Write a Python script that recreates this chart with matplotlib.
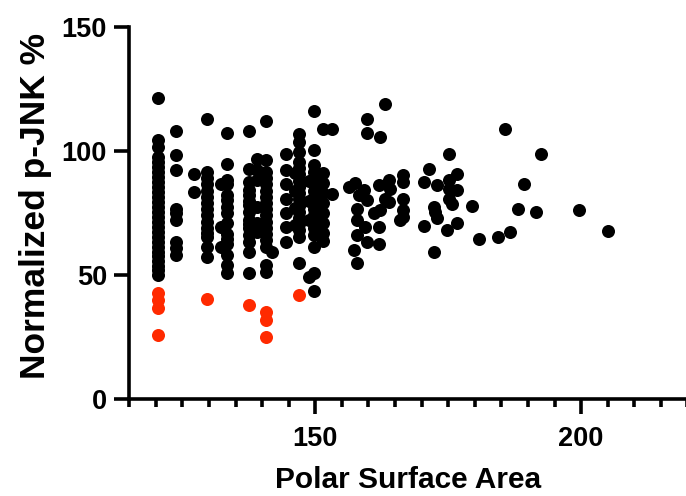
import matplotlib
matplotlib.use("Agg")
import matplotlib.pyplot as plt
from matplotlib.ticker import MultipleLocator, FixedLocator

plt.rcParams['font.family'] = ['Liberation Sans', 'DejaVu Sans']
plt.rcParams['font.weight'] = 'bold'

# ---- data (Polar Surface Area vs Normalized p-JNK %) ----
colA_x = 120.4
colA_y = [121.4, 104.3, 101.6, 97.5, 95.5, 93.5, 91.5, 89.5, 87.5, 85.5, 83.5, 81.5,
          79.5, 77.5, 75.5, 73.5, 71.5, 69.5, 67.5, 65.5, 63.5, 61.5, 59.5, 57.5,
          55.5, 53.5, 52.0, 50.0]
colB_x = 123.8
colB_y = [108.0, 98.2, 92.2, 76.7, 74.9, 72.1, 63.4, 60.8, 58.0]
colC_x = 127.1
colC_y = [90.9, 83.3]
colD_x = 129.7
colD_y = [112.7, 91.5, 89.0, 86.5, 84.0, 81.5, 79.0, 76.5, 74.0, 71.5, 69.0, 67.0,
          65.4, 61.4, 57.3]
colE_x = 133.4
colE_y = [107.4, 94.6, 88.2, 86.8, 82.1, 80.1, 77.4, 74.8, 70.8, 66.7, 64.7, 62.7,
          58.0, 54.0, 50.9]
colE2_x = 132.3
colE2_y = [86.8, 69.4, 61.4]
colF_x = 137.6
colF_y = [108.0, 92.9, 87.5, 84.2, 82.1, 80.0, 78.1, 75.4, 72.1, 70.5, 68.8, 66.1,
          63.4, 59.4, 50.7]
colF2_x = 139.0
colF2_y = [96.9, 92.5, 88.2, 77.4, 70.8, 67.4]
colG_x = 140.8
colG_y = [112.0, 96.2, 91.5, 89.0, 86.5, 84.0, 81.5, 79.0, 76.5, 74.0, 71.5, 69.0,
          66.5, 64.0, 61.4, 54.0, 51.3]
colG2_x = 141.9
colG2_y = [59.4]
colH_x = 144.4
colH_y = [98.9, 92.5, 86.8, 80.8, 74.8, 69.4, 63.4]
colI_x = 146.9
colI_y = [107.0, 103.6, 99.6, 95.5, 93.0, 90.5, 88.0, 85.5, 83.0, 80.5, 78.0, 75.5,
          73.0, 70.5, 68.0, 65.4, 54.7]
colI2_x = 146.2
colI2_y = [91.0, 84.0, 77.0, 70.0]
colJ_x = 149.7
colJ_y = [116.0, 100.2, 94.2, 91.5, 89.0, 86.5, 84.0, 81.5, 79.0, 76.5, 74.0, 71.5,
          69.0, 66.1, 61.4, 50.7, 43.7]
colJ2_x = 148.8
colJ2_y = [88.0, 80.0, 72.0, 49.3]
colK_x = 151.4
colK_y = [109.0, 91.0, 87.0, 83.0, 79.0, 75.0, 71.0, 67.0, 63.7]
colL_x = 153.2
colL_y = [109.0, 82.8]

scatter_x = [156.3, 157.5, 159.1, 158.3, 159.7, 157.8, 161.0, 162.2, 157.8, 159.4,
             161.9, 157.8, 159.7, 161.9, 157.2, 157.8, 161.9, 163.8, 164.1, 163.2,
             163.8, 166.5, 166.5, 166.5, 166.5, 166.0, 166.5, 159.8, 159.8, 163.2,
             162.2, 170.4, 171.3, 172.9, 175.1, 175.1, 176.7, 176.7, 175.1, 175.7,
             179.5, 172.3, 172.6, 172.9, 170.4, 174.7, 176.7, 172.4, 180.8, 184.4,
             186.7, 185.6, 175.2, 189.2, 188.2, 191.5, 192.4, 199.6, 205.0]
scatter_y = [85.5, 86.9, 84.2, 82.1, 80.1, 76.8, 74.8, 76.1, 72.1, 69.4,
             69.4, 66.1, 63.4, 62.7, 60.0, 54.7, 86.2, 88.2, 84.8, 80.8,
             79.5, 90.2, 87.5, 80.8, 76.1, 72.1, 73.5, 113.0, 107.2, 118.7,
             105.6, 87.5, 92.9, 86.2, 88.2, 84.8, 90.9, 84.2, 80.8, 78.8,
             77.9, 77.5, 75.4, 72.8, 69.8, 68.1, 71.1, 59.1, 64.4, 65.4,
             67.2, 109.0, 98.9, 86.5, 76.8, 75.4, 98.6, 76.4, 67.8]

red_x = [120.4, 120.4, 120.4, 120.4, 129.7, 137.6, 140.8, 140.8, 140.8, 146.9]
red_y = [42.6, 40.0, 36.8, 25.9, 40.2, 37.9, 35.2, 31.9, 24.9, 41.9]

columns = [(colA_x, colA_y), (colB_x, colB_y), (colC_x, colC_y), (colD_x, colD_y),
           (colE_x, colE_y), (colE2_x, colE2_y), (colF_x, colF_y), (colF2_x, colF2_y),
           (colG_x, colG_y), (colG2_x, colG2_y), (colH_x, colH_y), (colI_x, colI_y),
           (colI2_x, colI2_y), (colJ_x, colJ_y), (colJ2_x, colJ2_y), (colK_x, colK_y),
           (colL_x, colL_y)]

black_x = []
black_y = []
for cx, cy in columns:
    black_x += [cx] * len(cy)
    black_y += list(cy)
black_x += scatter_x
black_y += scatter_y

# ---- figure ----
fig = plt.figure(figsize=(6.86, 4.96), dpi=100)
left = 129.3 / 686
bottom = (496 - 399.3) / 496
width = (687.4 - 129.3) / 686
height = (399.3 - 26.7) / 496
ax = fig.add_axes([left, bottom, width, height])

ms = 88
ax.scatter(black_x, black_y, s=ms, color='black', linewidths=0, zorder=3, clip_on=False)
ax.scatter(red_x, red_y, s=ms, color='#FF2A00', linewidths=0, zorder=3, clip_on=False)

ax.set_xlim(115, 220)
ax.set_ylim(0, 150)

ax.xaxis.set_major_locator(FixedLocator([150, 200]))
ax.xaxis.set_minor_locator(MultipleLocator(5))
ax.yaxis.set_major_locator(MultipleLocator(50))

for s in ['top', 'right']:
    ax.spines[s].set_visible(False)
for s in ['left', 'bottom']:
    ax.spines[s].set_linewidth(2.6)

ax.tick_params(axis='both', which='major', length=11, width=2.6, labelsize=19.5, direction='out')
ax.tick_params(axis='x', which='minor', length=5.5, width=2.6, direction='out')
ax.tick_params(axis='x', which='major', pad=8)
ax.tick_params(axis='y', which='major', pad=5)
for lab in ax.get_xticklabels() + ax.get_yticklabels():
    lab.set_fontweight('bold')

ax.set_xlabel('Polar Surface Area', fontsize=21.5, fontweight='bold', labelpad=10)
ax.set_ylabel('Normalized p-JNK %', fontsize=25.5, fontweight='bold')
ax.yaxis.set_label_coords(-0.138, 0.519)

fig.savefig('out.png', dpi=100)
